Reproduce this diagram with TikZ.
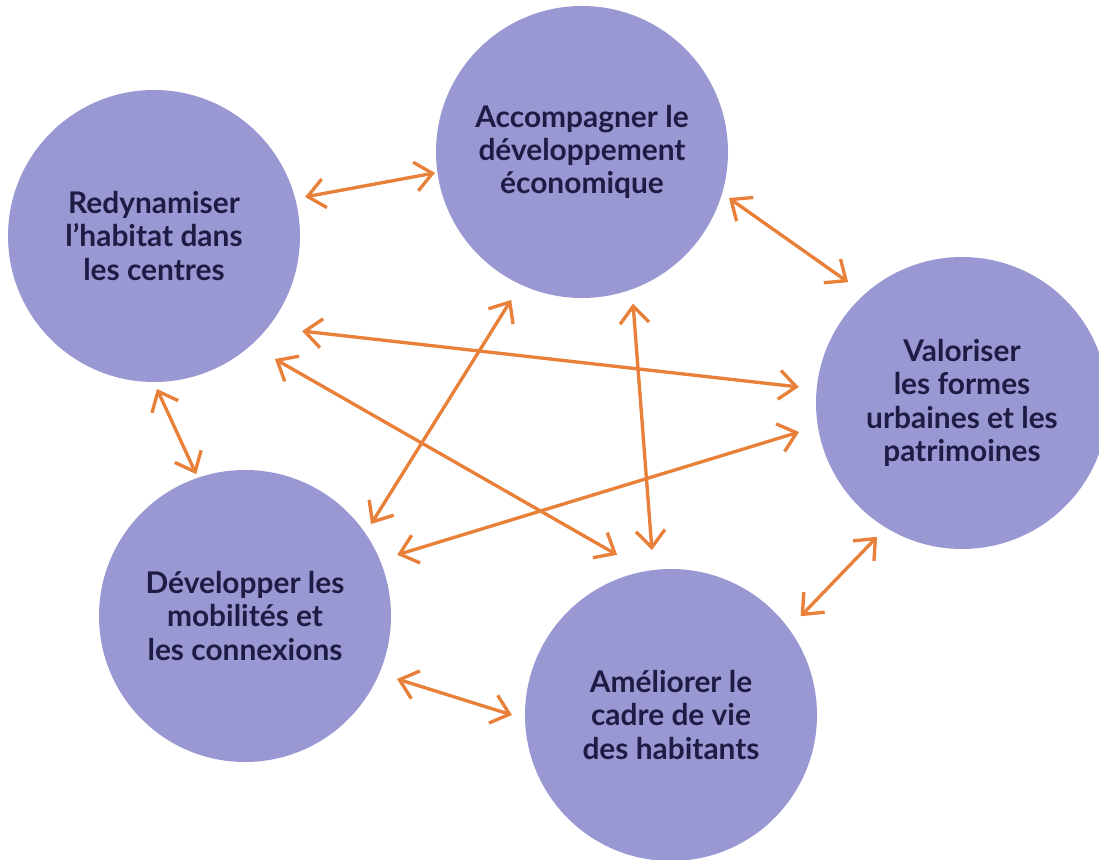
\documentclass[tikz,border=0pt]{standalone}
\usepackage{fontspec}
\setmainfont{Lato}
\usetikzlibrary{arrows.meta}
\definecolor{lavande}{HTML}{9A98D3}
\definecolor{orangef}{HTML}{E8803A}
\definecolor{encre}{HTML}{1D1C45}
\begin{document}
\begin{tikzpicture}[
  axe/.style={circle,fill=lavande,minimum size=5.84cm,inner sep=0pt,
    text=encre,align=center,font=\fontsize{17}{19}\selectfont\bfseries},
  lien/.style={orangef,line width=1.9pt,line cap=round,
    {Straight Barb[length=3.4mm,width=5.8mm]}-{Straight Barb[length=3.4mm,width=5.8mm]}}]
\useasboundingbox (0,0) rectangle (21.98,17.18);
\clip (0,0) rectangle (21.98,17.18);
% les cinq axes
\node[axe] (R) at (3.08,12.46) {Redynamiser\\l’habitat dans\\les centres};
\node[axe] (A) at (11.64,14.14) {Accompagner le\\développement\\économique};
\node[axe] (V) at (19.24,9.12) {Valoriser\\les formes\\urbaines et les\\patrimoines};
\node[axe] (D) at (4.90,4.86) {Développer les\\mobilités et\\les connexions};
\node[axe] (M) at (13.42,2.88) {Améliorer le\\cadre de vie\\des habitants};
% les liens
\draw[lien] ([shift={(14.5:3.12)}]R.center) -- ([shift={(188.1:2.97)}]A.center);
\draw[lien] ([shift={(-17.4:3.08)}]A.center) -- ([shift={(133.3:3.32)}]V.center);
\draw[lien] ([shift={(-32.7:3.52)}]R.center) -- ([shift={(174.4:3.28)}]V.center);
\draw[lien] ([shift={(-45.5:3.45)}]R.center) -- ([shift={(108.6:3.38)}]M.center);
\draw[lien] ([shift={(-88.9:3.06)}]R.center) -- ([shift={(109:3.00)}]D.center);
\draw[lien] ([shift={(-115.6:3.28)}]A.center) -- ([shift={(36.1:3.12)}]D.center);
\draw[lien] ([shift={(-71.4:3.20)}]A.center) -- ([shift={(96.6:3.32)}]M.center);
\draw[lien] ([shift={(190.1:3.31)}]V.center) -- ([shift={(21.9:3.28)}]D.center);
\draw[lien] ([shift={(-122.4:3.17)}]V.center) -- ([shift={(37.3:3.26)}]M.center);
\draw[lien] ([shift={(-22.5:3.29)}]D.center) -- ([shift={(180:3.18)}]M.center);
\end{tikzpicture}
\end{document}
